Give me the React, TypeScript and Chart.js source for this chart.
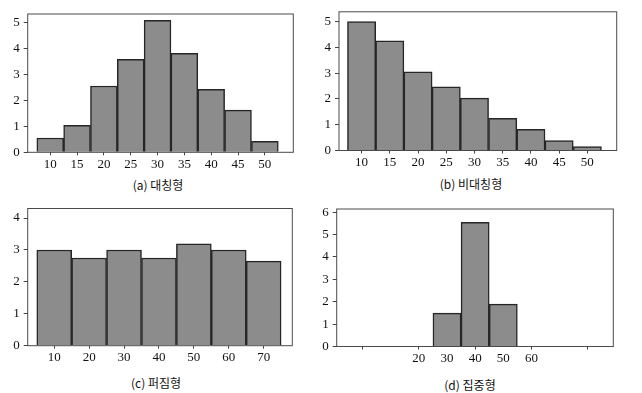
import React, { useEffect, useRef } from "react";
import { Chart, registerables } from "chart.js";
Chart.register(...registerables);

// ---- data ----
const aCats = [10, 15, 20, 25, 30, 35, 40, 45, 50];
const aVals = [0.55, 1.04, 2.55, 3.58, 5.08, 3.81, 2.42, 1.62, 0.42];
const aYTicks = [0, 1, 2, 3, 4, 5];

const bCats = [10, 15, 20, 25, 30, 35, 40, 45, 50];
const bVals = [5.0, 4.25, 3.05, 2.47, 2.03, 1.25, 0.82, 0.38, 0.15];
const bYTicks = [0, 1, 2, 3, 4, 5];

const cCats = [10, 20, 30, 40, 50, 60, 70];
const cVals = [3.0, 2.75, 3.0, 2.75, 3.19, 3.0, 2.65];
const cYTicks = [0, 1, 2, 3, 4];

const dCats = [30, 40, 50];
const dVals = [1.49, 5.55, 1.89];
const dYTicks = [0, 1, 2, 3, 4, 5, 6];
const dXTicks = [0, 10, 20, 30, 40, 50, 60, 70, 80];
const dXLabels = [20, 30, 40, 50, 60];
const dXMarks = [0, 20, 40, 60, 80];

const captions = ["(a) 대칭형", "(b) 비대칭형", "(c) 퍼짐형", "(d) 집중형"];

type Panel = {
  cats: number[];
  vals: number[];
  yTicks: number[];
  xTicks: number[];
  xLabels: number[];
  xMarks: number[];
  xMin: number;
  xMax: number;
  yMax: number;
  left: number;
  top: number;
  w: number;
  h: number;
  area: { l: number; t: number; r: number; b: number };
  caption: string;
  capX: number;
  capY: number;
};

const panels: Panel[] = [
  {
    cats: aCats, vals: aVals, yTicks: aYTicks, xTicks: aCats, xLabels: aCats, xMarks: aCats,
    xMin: 5.8, xMax: 55.3, yMax: 5.32,
    left: 0, top: 0, w: 310, h: 175, area: { l: 27.7, t: 14, r: 293.3, b: 152.3 },
    caption: captions[0], capX: 158, capY: 185,
  },
  {
    cats: bCats, vals: bVals, yTicks: bYTicks, xTicks: bCats, xLabels: bCats, xMarks: bCats,
    xMin: 6.0, xMax: 55.2, yMax: 5.38,
    left: 310, top: 0, w: 332, h: 175, area: { l: 29, t: 9, r: 306.7, b: 150.5 },
    caption: captions[1], capX: 471, capY: 184,
  },
  {
    cats: cCats, vals: cVals, yTicks: cYTicks, xTicks: cCats, xLabels: cCats, xMarks: cCats,
    xMin: 2.4, xMax: 78.2, yMax: 4.3,
    left: 0, top: 195, w: 310, h: 175, area: { l: 27.7, t: 13.5, r: 292.3, b: 150.7 },
    caption: captions[2], capX: 156, capY: 383,
  },
  {
    cats: dCats, vals: dVals, yTicks: dYTicks, xTicks: dXTicks, xLabels: dXLabels, xMarks: dXMarks,
    xMin: -9.2, xMax: 89.1, yMax: 6.14,
    left: 310, top: 195, w: 332, h: 175, area: { l: 26.7, t: 14, r: 303.3, b: 151.5 },
    caption: captions[3], capX: 470, capY: 385,
  },
];

const SERIF = "Liberation Serif";

const boxPlugin = {
  id: "boxFrame",
  afterDatasetsDraw(chart: any) {
    const { ctx, chartArea } = chart;
    ctx.save();
    ctx.strokeStyle = "#4a4a4a";
    ctx.lineWidth = 1;
    ctx.strokeRect(chartArea.left, chartArea.top, chartArea.right - chartArea.left, chartArea.bottom - chartArea.top);
    ctx.restore();
  },
};

function PanelChart({ p }: { p: Panel }) {
  const ref = useRef<HTMLCanvasElement | null>(null);
  useEffect(() => {
    if (!ref.current) return;
    const tickFont = { family: SERIF, size: 13 };
    const chart = new Chart(ref.current, {
      type: "bar",
      data: {
        datasets: [
          {
            data: p.cats.map((x, i) => ({ x, y: p.vals[i] })),
            backgroundColor: "#8c8c8c",
            borderColor: "#262626",
            borderWidth: 1.5,
            barPercentage: 1,
            categoryPercentage: 1,
          },
        ],
      },
      options: {
        responsive: false,
        animation: false,
        devicePixelRatio: 1,
        font: { family: SERIF },
        layout: { padding: { left: 0, top: p.area.t, right: p.w - p.area.r, bottom: 0 } },
        plugins: { legend: { display: false }, tooltip: { enabled: false }, title: { display: false } },
        scales: {
          x: {
            type: "linear",
            min: p.xMin,
            max: p.xMax,
            offset: false,
            border: { display: false },
            grid: {
              offset: false,
              drawOnChartArea: false,
              drawTicks: true,
              tickLength: 3,
              color: (ctx: any) => (p.xMarks.includes(ctx.tick?.value) ? "#444" : "rgba(0,0,0,0)"),
            },
            afterBuildTicks: (scale: any) => {
              scale.ticks = p.xTicks.map((v) => ({ value: v }));
            },
            afterFit: (scale: any) => {
              scale.height = p.h - p.area.b;
            },
            ticks: {
              autoSkip: false,
              maxRotation: 0,
              minRotation: 0,
              padding: 1,
              color: "#111",
              font: tickFont,
              callback: (v: any) => (p.xLabels.includes(Number(v)) ? String(v) : ""),
            },
          },
          y: {
            type: "linear",
            min: 0,
            max: p.yMax,
            border: { display: false },
            grid: { drawOnChartArea: false, drawTicks: true, tickLength: 4, color: "#444" },
            afterBuildTicks: (scale: any) => {
              scale.ticks = p.yTicks.map((v) => ({ value: v }));
            },
            afterFit: (scale: any) => {
              scale.width = p.area.l;
            },
            ticks: { padding: 4, color: "#111", font: tickFont, callback: (v: any) => String(v) },
          },
        },
      },
      plugins: [boxPlugin],
    } as any);
    return () => chart.destroy();
  }, [p]);
  return (
    <canvas
      ref={ref}
      width={p.w}
      height={p.h}
      style={{ position: "absolute", left: p.left, top: p.top, width: p.w, height: p.h }}
    />
  );
}

export default function App() {
  return (
    <div style={{ position: "fixed", left: 0, top: 0, width: 642, height: 393, background: "#fff", overflow: "hidden" }}>
      {panels.map((p, i) => (
        <PanelChart key={i} p={p} />
      ))}
      {panels.map((p, i) => (
        <div
          key={"c" + i}
          style={{
            position: "absolute",
            left: p.capX,
            top: p.capY - 8,
            transform: "translateX(-50%)",
            whiteSpace: "nowrap",
            font: "12px 'Noto Sans CJK KR', 'Noto Sans', sans-serif",
            lineHeight: "16px",
            color: "#111",
          }}
        >
          {p.caption}
        </div>
      ))}
    </div>
  );
}
